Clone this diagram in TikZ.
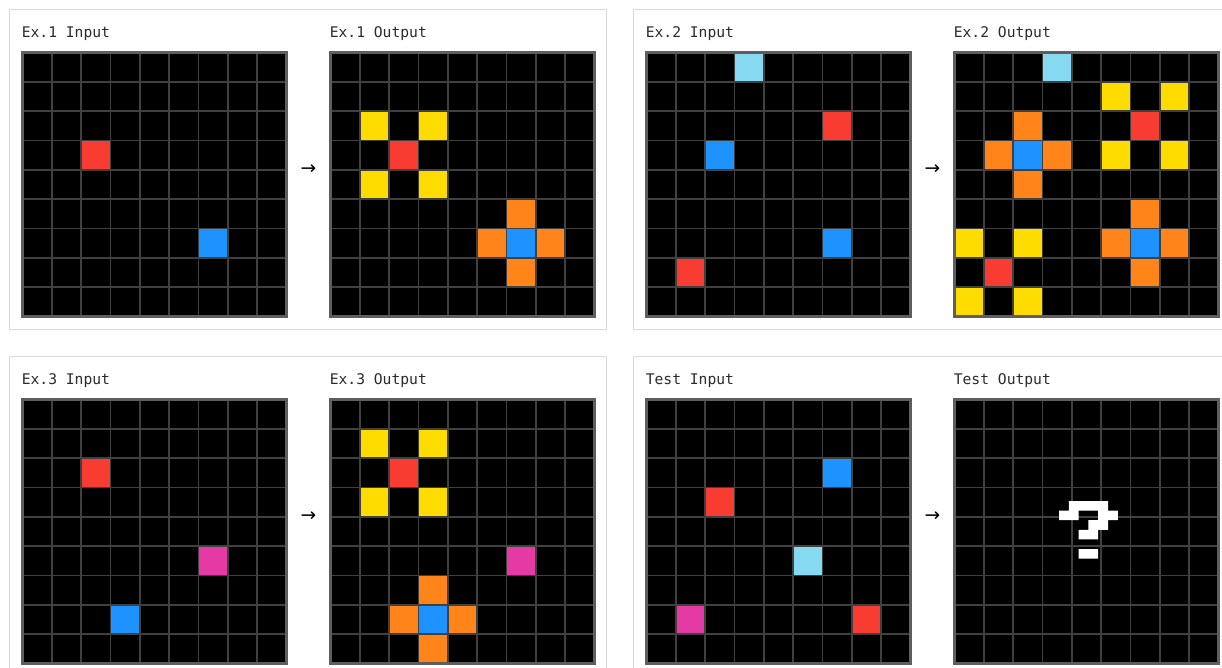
\documentclass[tikz,border=0pt]{standalone}
\usepackage{fontspec}
\setmonofont{DejaVu Sans Mono}
\newfontfamily\symfont{DejaVu Sans}
\usepackage{tikz}
\usetikzlibrary{positioning}

\definecolor{arcred}{HTML}{F93C31}
\definecolor{arcblue}{HTML}{1E93FF}
\definecolor{arcyellow}{HTML}{FFDC00}
\definecolor{arcorange}{HTML}{FF851B}
\definecolor{arcsky}{HTML}{87D8F1}
\definecolor{arcpink}{HTML}{E53AA3}
\definecolor{cellgray}{HTML}{404040}
\definecolor{framegray}{HTML}{5E5E5E}
\definecolor{panelgray}{HTML}{DADADA}
\definecolor{labelgray}{HTML}{2B2B2B}

% one 9x9 grid: top left corner (#1,#2), cells as row/col/colour
\newcommand{\arcgrid}[3]{%
  \begin{scope}[shift={(#1,#2)},x=22pt,y=-22pt]
    \fill[black] (0,0) rectangle (9,9);
    \foreach \row/\clm/\hue in {#3}
      \fill[\hue] (\clm,\row) rectangle ++(1,1);
    \foreach \i in {1,...,8} {
      \draw[cellline] (\i,0) -- (\i,9);
      \draw[cellline] (0,\i) -- (9,\i);
    }
    \draw[gridframe] (0,0) rectangle (9,9);
  \end{scope}}

\begin{document}
\begin{tikzpicture}[x=0.75pt,y=-0.75pt,
  panel/.style={draw=panelgray,line width=1pt,fill=white},
  cellline/.style={draw=cellgray,line width=1.3pt},
  gridframe/.style={draw=framegray,line width=1.7pt},
  lbl/.style={anchor=base west,inner sep=0pt,text=labelgray,
    font=\ttfamily\fontsize{11}{13}\selectfont},
  arr/.style={inner sep=0pt,text=black,font=\symfont\fontsize{14}{16}\selectfont}]
  \useasboundingbox (0,0) rectangle (1222,668);
  \clip (0,0) rectangle (1222,668);
  \fill[white] (0,0) rectangle (1222,668);

  % panels
  \draw[panel] (9.5,9.5) rectangle (606.5,329.5);
  \draw[panel] (633.5,9.5) rectangle (1240,329.5);
  \draw[panel] (9.5,356.5) rectangle (606.5,690);
  \draw[panel] (633.5,356.5) rectangle (1240,690);

  % labels
  \node[lbl] (in1)  at (21.5,37)  {Ex.1 Input};
  \node[lbl] (out1) at (329.5,37) {Ex.1 Output};
  \node[lbl] (in2)  at (645.5,37) {Ex.2 Input};
  \node[lbl] (out2) at (953.5,37) {Ex.2 Output};
  \node[lbl] (in3)  at (21.5,384)  {Ex.3 Input};
  \node[lbl] (out3) at (329.5,384) {Ex.3 Output};
  \node[lbl] (tin)  at (645.5,384) {Test Input};
  \node[lbl] (tout) at (953.5,384) {Test Output};

  % Ex.1
  \arcgrid{22.5}{52.5}{3/2/arcred, 6/6/arcblue}
  \arcgrid{330.5}{52.5}{3/2/arcred, 2/1/arcyellow, 2/3/arcyellow,
    4/1/arcyellow, 4/3/arcyellow, 6/6/arcblue, 5/6/arcorange,
    7/6/arcorange, 6/5/arcorange, 6/7/arcorange}

  % Ex.2
  \arcgrid{646.5}{52.5}{0/3/arcsky, 2/6/arcred, 3/2/arcblue,
    6/6/arcblue, 7/1/arcred}
  \arcgrid{954.5}{52.5}{0/3/arcsky, 2/6/arcred, 1/5/arcyellow,
    1/7/arcyellow, 3/5/arcyellow, 3/7/arcyellow, 3/2/arcblue,
    2/2/arcorange, 4/2/arcorange, 3/1/arcorange, 3/3/arcorange,
    6/6/arcblue, 5/6/arcorange, 7/6/arcorange, 6/5/arcorange,
    6/7/arcorange, 7/1/arcred, 6/0/arcyellow, 6/2/arcyellow,
    8/0/arcyellow, 8/2/arcyellow}

  % Ex.3
  \arcgrid{22.5}{399.5}{2/2/arcred, 5/6/arcpink, 7/3/arcblue}
  \arcgrid{330.5}{399.5}{2/2/arcred, 1/1/arcyellow, 1/3/arcyellow,
    3/1/arcyellow, 3/3/arcyellow, 5/6/arcpink, 7/3/arcblue,
    6/3/arcorange, 8/3/arcorange, 7/2/arcorange, 7/4/arcorange}

  % test
  \arcgrid{646.5}{399.5}{2/6/arcblue, 3/2/arcred, 5/5/arcsky,
    7/1/arcpink, 7/7/arcred}
  \arcgrid{954.5}{399.5}{0/0/black}

  % pixel question mark
  \begin{scope}[shift={(1059,501)},x=7.35pt,y=-7.2pt]
    \fill[white] (1,0) rectangle (5,1)
      (0,1) rectangle (2,2) (4,1) rectangle (6,2)
      (3,2) rectangle (5,3) (2,3) rectangle (4,4)
      (2,5) rectangle (4,6);
  \end{scope}

  % arrows
  \node[arr] (a1) at (308.5,170) {→};
  \node[arr] (a2) at (932.5,170) {→};
  \node[arr] (a3) at (308.5,517) {→};
  \node[arr] (a4) at (932.5,517) {→};
\end{tikzpicture}
\end{document}
